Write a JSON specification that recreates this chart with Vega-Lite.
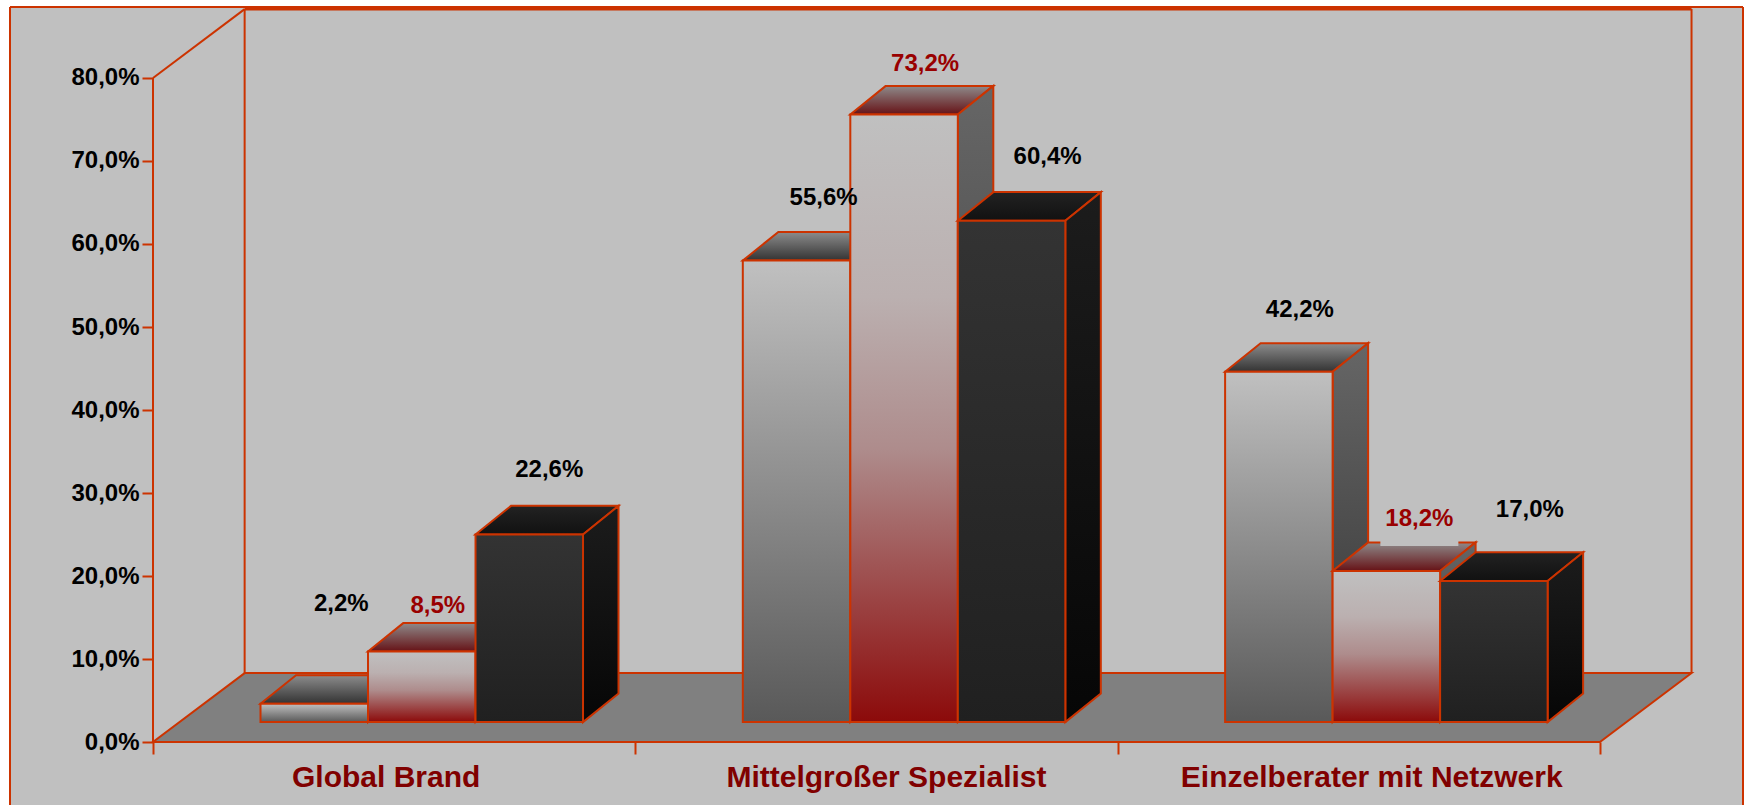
{
"$schema":"https://vega.github.io/schema/vega-lite/v6.json",
"autosize":"none","width":1733,"height":798,
"padding":{"left":10,"top":7,"right":2,"bottom":0},
"background":"#ffffff",
"view":{"fill":"#c0c0c0","stroke":null},
"data":{"values":[
{"category":"Global Brand","series":"A","value":2.2},
{"category":"Global Brand","series":"B","value":8.5},
{"category":"Global Brand","series":"C","value":22.6},
{"category":"Mittelgroßer Spezialist","series":"A","value":55.6},
{"category":"Mittelgroßer Spezialist","series":"B","value":73.2},
{"category":"Mittelgroßer Spezialist","series":"C","value":60.4},
{"category":"Einzelberater mit Netzwerk","series":"A","value":42.2},
{"category":"Einzelberater mit Netzwerk","series":"B","value":18.2},
{"category":"Einzelberater mit Netzwerk","series":"C","value":17.0}
]},
"transform":[
{"calculate":"indexof(['Global Brand','Mittelgroßer Spezialist','Einzelberater mit Netzwerk'],datum.category)","as":"idx"},
{"calculate":"indexof(['A','B','C'],datum.series)","as":"s"},
{"calculate":"datum.idx+0.2229+datum.s*0.2229","as":"l"},
{"calculate":"datum.l+0.2229","as":"r"},
{"calculate":"datum.value+2.4","as":"top"},
{"calculate":"[0,1]","as":"t"},
{"flatten":["t"]},
{"calculate":"datum.r+datum.t*0.0736","as":"sx"},
{"calculate":"datum.l+datum.t*0.0736","as":"tl"},
{"calculate":"datum.r+datum.t*0.0736","as":"tr"},
{"calculate":"2.4+datum.t*3.45","as":"sb"},
{"calculate":"datum.top+datum.t*3.45","as":"st"},
{"calculate":"replace(format(datum.value,'.1f'),'.',',')+'%'","as":"txt"},
{"calculate":"datum.l+0.11145+[[27,16,20],[27,21,36],[21,33,36]][datum.idx][datum.s]/482.3","as":"lx"},
{"calculate":"datum.top+[[93,39,58],[56,44,57],[55,45,64]][datum.idx][datum.s]/8.3","as":"ly"},
{"calculate":"datum.idx+0.5+[-8,10,13][datum.idx]/482.3","as":"cx"},
{"calculate":"datum.lx-39/482.3","as":"bl"},
{"calculate":"datum.lx+39/482.3","as":"br"},
{"calculate":"datum.ly-20/8.3","as":"bb"}
],
"encoding":{
"x":{"field":"l","type":"quantitative","scale":{"domain":[-0.2965,3.2967],"nice":false,"zero":false}},
"y":{"field":"top","type":"quantitative","scale":{"domain":[-7.59,88.554],"nice":false,"zero":false}}
},
"layer":[
{"data":{"values":[{"line":"frame","a":-0.2965,"b":-0.2965,"c":-7.59,"d":88.554},{"line":"frame","a":3.2967,"b":3.2967,"c":-7.59,"d":88.554},{"line":"frame","a":-0.2965,"b":3.2967,"c":88.554,"d":88.554},{"line":"wall","a":0,"b":0.19,"c":80,"d":88.3},{"line":"wall","a":0.19,"b":0.19,"c":8.3,"d":88.3},{"line":"wall","a":3.19,"b":3.19,"c":8.3,"d":88.3},{"line":"wall","a":0,"b":0,"c":0,"d":80}]},
 "mark":{"type":"rule","stroke":"#cc3300","strokeWidth":2},"encoding":{
 "x":{"field":"a","type":"quantitative","axis":{"values":[0,1,2,3],"labels":false,"domain":false,"grid":false,"title":null,"offset":-63,"tickSize":12,"tickWidth":2,"tickColor":"#cc3300"}},
 "x2":{"field":"b"},
 "y":{"field":"c","type":"quantitative","axis":{"values":[0,10,20,30,40,50,60,70,80],"labelExpr":"replace(format(datum.value,'.1f'),'.',',')+'%'","domain":false,"grid":false,"title":null,"offset":-143,"tickSize":11,"tickWidth":2,"tickColor":"#cc3300","labelPadding":3,"labelFont":"Liberation Sans","labelFontWeight":"bold","labelFontSize":24,"labelColor":"#000000"}},
 "y2":{"field":"d"}}},
{"data":{"values":[{"a":0.19,"b":3.19,"c":88.3,"d":88.3}]},"mark":{"type":"rule","stroke":"#cc3300","strokeWidth":3},"encoding":{
 "x":{"field":"a","type":"quantitative"},"x2":{"field":"b"},"y":{"field":"c","type":"quantitative"},"y2":{"field":"d"}}},
{"data":{"values":[{"d":0},{"d":1}]},
 "transform":[{"calculate":"datum.d*0.19","as":"a"},{"calculate":"3+datum.d*0.19","as":"b"},{"calculate":"datum.d*8.3","as":"c"}],
 "mark":{"type":"area","orient":"horizontal","fill":"#808080","stroke":"#cc3300","strokeWidth":2},
 "encoding":{"x":{"field":"a","type":"quantitative"},"x2":{"field":"b"},"y":{"field":"c","type":"quantitative"}}},

{"transform":[{"filter":"datum.s==0"}],"mark":{"type":"area","orient":"horizontal","stroke":"#cc3300","strokeWidth":2,
 "fill":{"gradient":"linear","x1":0,"y1":0,"x2":0,"y2":1,"stops":[{"offset":0,"color":"#8c8c8c"},{"offset":1,"color":"#333333"}]}},
 "encoding":{"x":{"field":"tl","type":"quantitative"},"x2":{"field":"tr"},"y":{"field":"st","type":"quantitative"},"detail":{"field":"category"}}},
{"transform":[{"filter":"datum.s==0"}],"mark":{"type":"area","orient":"vertical","stroke":"#cc3300","strokeWidth":2,
 "fill":{"gradient":"linear","x1":0,"y1":0,"x2":0,"y2":1,"stops":[{"offset":0,"color":"#666666"},{"offset":1,"color":"#333333"}]}},
 "encoding":{"x":{"field":"sx","type":"quantitative"},"y":{"field":"st","type":"quantitative"},"y2":{"field":"sb"},"detail":{"field":"category"}}},
{"transform":[{"filter":"datum.s==0 && datum.t==0"}],"mark":{"type":"rect","stroke":"#cc3300","strokeWidth":2,
 "fill":{"gradient":"linear","x1":0,"y1":0,"x2":0,"y2":1,"stops":[{"offset":0,"color":"#c0c0c0"},{"offset":1,"color":"#595959"}]}},
 "encoding":{"x":{"field":"l","type":"quantitative"},"x2":{"field":"r"},"y":{"field":"top","type":"quantitative"},"y2":{"field":"sb"}}},

{"transform":[{"filter":"datum.s==1"}],"mark":{"type":"area","orient":"horizontal","stroke":"#cc3300","strokeWidth":2,
 "fill":{"gradient":"linear","x1":0,"y1":0,"x2":0,"y2":1,"stops":[{"offset":0,"color":"#8e8a8a"},{"offset":1,"color":"#661216"}]}},
 "encoding":{"x":{"field":"tl","type":"quantitative"},"x2":{"field":"tr"},"y":{"field":"st","type":"quantitative"},"detail":{"field":"category"}}},
{"transform":[{"filter":"datum.s==1"}],"mark":{"type":"area","orient":"vertical","stroke":"#cc3300","strokeWidth":2,
 "fill":{"gradient":"linear","x1":0,"y1":0,"x2":0,"y2":1,"stops":[{"offset":0,"color":"#666666"},{"offset":1,"color":"#333333"}]}},
 "encoding":{"x":{"field":"sx","type":"quantitative"},"y":{"field":"st","type":"quantitative"},"y2":{"field":"sb"},"detail":{"field":"category"}}},
{"transform":[{"filter":"datum.s==1 && datum.t==0"}],"mark":{"type":"rect","stroke":"#cc3300","strokeWidth":2,
 "fill":{"gradient":"linear","x1":0,"y1":0,"x2":0,"y2":1,"stops":[{"offset":0,"color":"#c0c0c0"},{"offset":0.3,"color":"#bbb0b0"},{"offset":0.55,"color":"#ae8c8c"},{"offset":1,"color":"#8c0a0a"}]}},
 "encoding":{"x":{"field":"l","type":"quantitative"},"x2":{"field":"r"},"y":{"field":"top","type":"quantitative"},"y2":{"field":"sb"}}},

{"transform":[{"filter":"datum.s==2"}],"mark":{"type":"area","orient":"horizontal","stroke":"#cc3300","strokeWidth":2,
 "fill":{"gradient":"linear","x1":0,"y1":0,"x2":0,"y2":1,"stops":[{"offset":0,"color":"#222222"},{"offset":1,"color":"#111111"}]}},
 "encoding":{"x":{"field":"tl","type":"quantitative"},"x2":{"field":"tr"},"y":{"field":"st","type":"quantitative"},"detail":{"field":"category"}}},
{"transform":[{"filter":"datum.s==2"}],"mark":{"type":"area","orient":"vertical","stroke":"#cc3300","strokeWidth":2,
 "fill":{"gradient":"linear","x1":0,"y1":0,"x2":0,"y2":1,"stops":[{"offset":0,"color":"#1c1c1c"},{"offset":1,"color":"#060606"}]}},
 "encoding":{"x":{"field":"sx","type":"quantitative"},"y":{"field":"st","type":"quantitative"},"y2":{"field":"sb"},"detail":{"field":"category"}}},
{"transform":[{"filter":"datum.s==2 && datum.t==0"}],"mark":{"type":"rect","stroke":"#cc3300","strokeWidth":2,
 "fill":{"gradient":"linear","x1":0,"y1":0,"x2":0,"y2":1,"stops":[{"offset":0,"color":"#333333"},{"offset":1,"color":"#202020"}]}},
 "encoding":{"x":{"field":"l","type":"quantitative"},"x2":{"field":"r"},"y":{"field":"top","type":"quantitative"},"y2":{"field":"sb"}}},

{"transform":[{"filter":"datum.t==0 && datum.value==18.2"}],"mark":{"type":"rect","fill":"#c0c0c0","stroke":null},
 "encoding":{"x":{"field":"bl","type":"quantitative"},"x2":{"field":"br"},"y":{"field":"ly","type":"quantitative"},"y2":{"field":"bb"}}},
{"transform":[{"filter":"datum.t==0"}],"mark":{"type":"text","font":"Liberation Sans","fontWeight":"bold","fontSize":24,"align":"center","baseline":"alphabetic"},
 "encoding":{"x":{"field":"lx","type":"quantitative"},"y":{"field":"ly","type":"quantitative"},"text":{"field":"txt"},
 "color":{"condition":{"test":"datum.s==1","value":"#990000"},"value":"#000000"}}},
{"transform":[{"filter":"datum.t==0 && datum.s==0"}],"mark":{"type":"text","font":"Liberation Sans","fontWeight":"bold","fontSize":30,"align":"center","baseline":"alphabetic","color":"#800000"},
 "encoding":{"x":{"field":"cx","type":"quantitative"},"y":{"datum":-5.42},"text":{"field":"category"}}}
]
}
